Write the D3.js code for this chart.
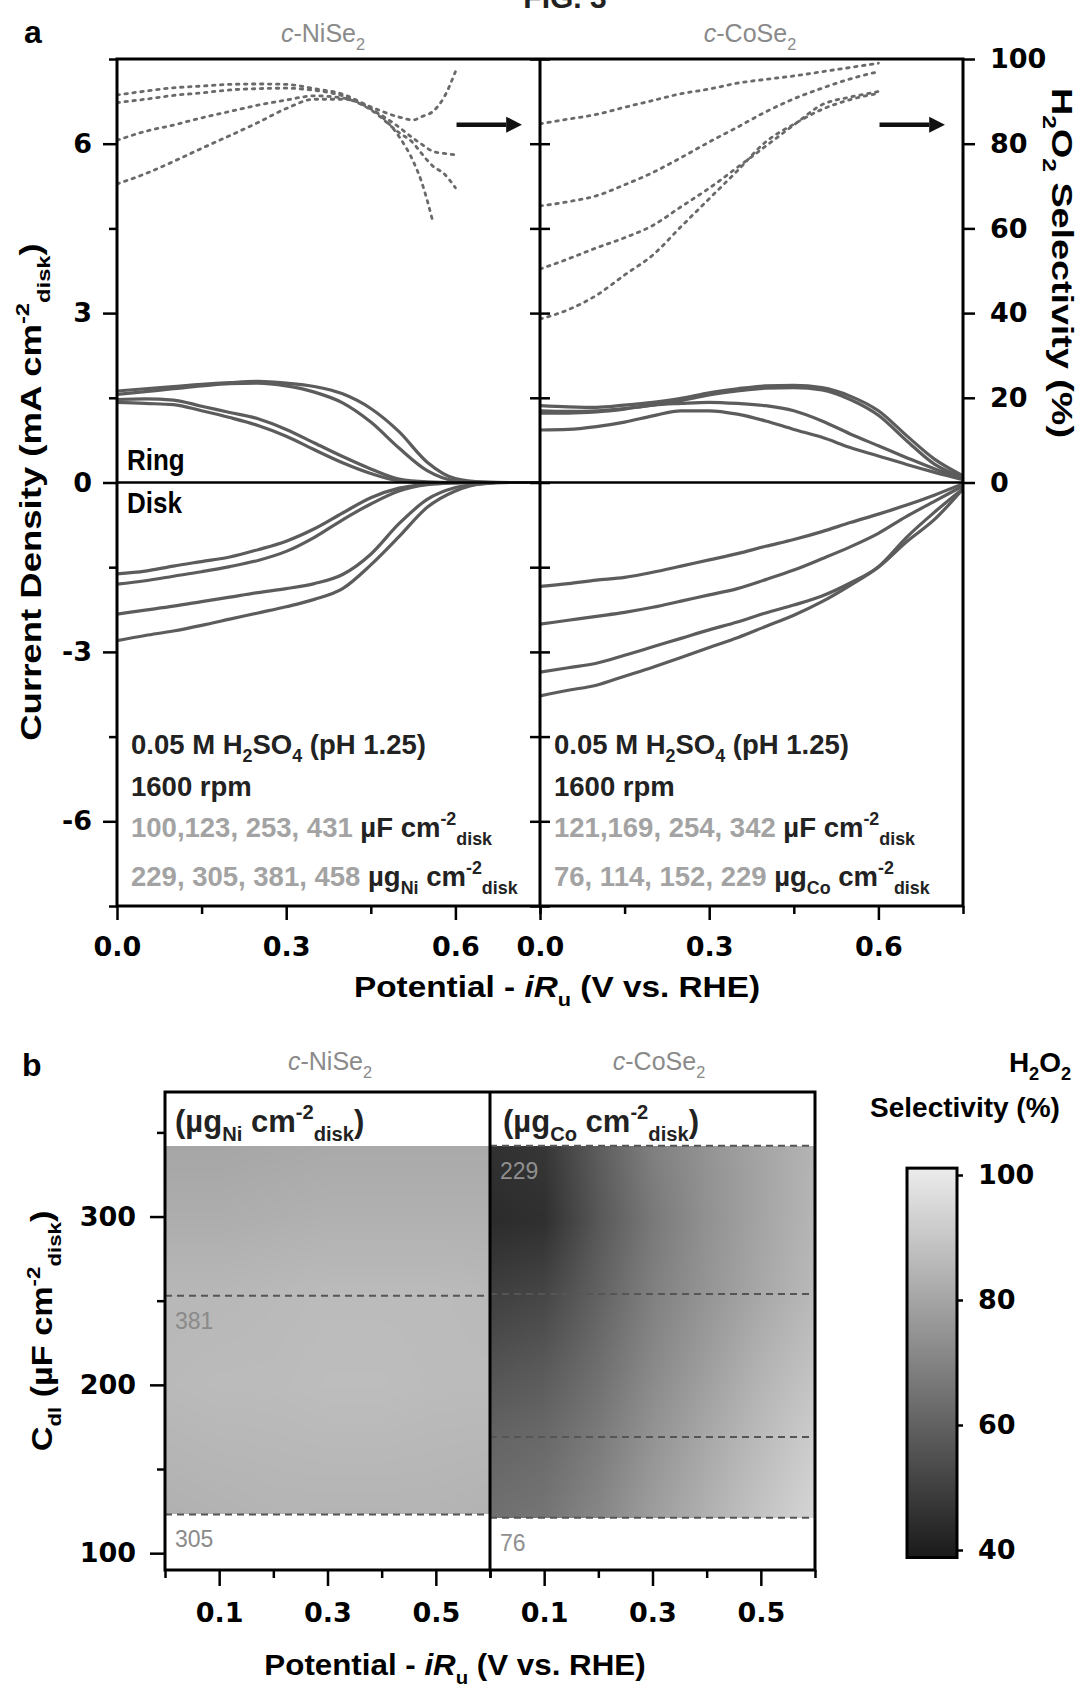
<!DOCTYPE html>
<html>
<head>
<meta charset="utf-8">
<script src="https://cdn.jsdelivr.net/npm/d3@7"></script>
<style>
  body { margin: 0; background: #fff; }
</style>
</head>
<body>
<svg id="fig" width="1088" height="1687" font-family="Liberation Sans, Arial, sans-serif"></svg>
<script>
// ---------- (a) RRDE data ----------
// potential grid (V vs. RHE, iR-corrected) shared by ring / disk currents
const potentialGrid = [0, 0.05, 0.1, 0.15, 0.2, 0.25, 0.3, 0.35, 0.4, 0.45, 0.5, 0.55, 0.6, 0.65, 0.7, 0.75];

// c-NiSe2 ring and disk current densities (mA cm-2 disk)
const niRing = [
  [1.62, 1.66, 1.70, 1.74, 1.77, 1.79, 1.76, 1.70, 1.57, 1.31, 0.90, 0.36, 0.07, 0.01, 0, 0],
  [1.56, 1.61, 1.66, 1.71, 1.75, 1.76, 1.71, 1.60, 1.41, 1.07, 0.61, 0.21, 0.03, 0, 0, 0],
  [1.47, 1.48, 1.46, 1.35, 1.24, 1.13, 0.94, 0.70, 0.46, 0.24, 0.06, 0.01, 0, 0, 0, 0],
  [1.42, 1.40, 1.38, 1.27, 1.15, 1.01, 0.82, 0.58, 0.35, 0.16, 0.03, 0, 0, 0, 0, 0]
];
const niDisk = [
  [-1.62, -1.57, -1.48, -1.40, -1.32, -1.19, -1.04, -0.82, -0.54, -0.27, -0.10, -0.03, 0, 0, 0, 0],
  [-1.80, -1.74, -1.66, -1.58, -1.49, -1.38, -1.22, -0.97, -0.66, -0.38, -0.15, -0.04, -0.01, 0, 0, 0],
  [-2.33, -2.26, -2.19, -2.11, -2.03, -1.95, -1.88, -1.79, -1.63, -1.27, -0.73, -0.30, -0.09, -0.02, 0, 0],
  [-2.80, -2.71, -2.63, -2.53, -2.42, -2.31, -2.20, -2.07, -1.88, -1.46, -0.96, -0.44, -0.15, -0.02, 0, 0]
];

// c-CoSe2 ring and disk current densities (mA cm-2 disk)
const coRing = [
  [1.36, 1.34, 1.33, 1.37, 1.42, 1.49, 1.59, 1.66, 1.71, 1.72, 1.68, 1.53, 1.27, 0.83, 0.41, 0.12],
  [1.27, 1.26, 1.27, 1.31, 1.37, 1.45, 1.55, 1.62, 1.67, 1.68, 1.64, 1.47, 1.19, 0.74, 0.32, 0.09],
  [1.23, 1.23, 1.25, 1.30, 1.37, 1.40, 1.42, 1.40, 1.36, 1.27, 1.09, 0.86, 0.65, 0.44, 0.24, 0.07],
  [0.93, 0.94, 0.99, 1.07, 1.18, 1.27, 1.27, 1.21, 1.09, 0.94, 0.80, 0.62, 0.47, 0.32, 0.18, 0.05]
];
const coDisk = [
  [-1.84, -1.79, -1.73, -1.68, -1.59, -1.48, -1.37, -1.26, -1.13, -1.01, -0.87, -0.71, -0.56, -0.40, -0.22, -0.02],
  [-2.51, -2.44, -2.37, -2.30, -2.21, -2.10, -1.99, -1.88, -1.72, -1.55, -1.35, -1.14, -0.90, -0.60, -0.33, -0.06],
  [-3.36, -3.28, -3.20, -3.06, -2.91, -2.76, -2.61, -2.47, -2.31, -2.17, -2.01, -1.78, -1.49, -0.97, -0.52, -0.11],
  [-3.78, -3.68, -3.59, -3.43, -3.27, -3.10, -2.92, -2.75, -2.55, -2.35, -2.11, -1.82, -1.50, -1.05, -0.65, -0.11]
];

// H2O2 selectivity (%)
const niSelPotential = [0, 0.05, 0.1, 0.15, 0.2, 0.25, 0.3, 0.35, 0.4, 0.45, 0.5, 0.525, 0.54, 0.56, 0.58, 0.6];
const niSelectivity = [
  [91.5, 92.4, 93.2, 93.6, 94.0, 94.1, 94.0, 93.0, 91.7, 88.7, 86.3, 85.6, 86.4, 87.6, 91.0, 97.0],
  [89.7, 90.5, 91.4, 92.0, 92.7, 93.0, 93.1, 92.6, 91.3, 88.2, 83.9, 81.3, 79.9, 78.2, 77.7, 77.4],
  [80.8, 82.9, 84.4, 86.1, 87.6, 89.1, 90.3, 91.3, 90.8, 88.0, 82.6, 80.2, 77.7, 74.7, 72.9, 69.6],
  [70.5, 72.9, 75.8, 78.9, 81.9, 85.0, 88.3, 90.5, 90.5, 88.3, 81.7, 75.9, 71.0, 61.6, null, null]
];
const coSelPotential = [0, 0.05, 0.1, 0.15, 0.2, 0.25, 0.3, 0.35, 0.4, 0.45, 0.5, 0.55, 0.6];
const coSelectivity = [
  [84.7, 85.8, 86.9, 88.6, 90.2, 91.8, 92.9, 94.3, 95.2, 96.0, 97.0, 98.0, 99.0],
  [65.3, 66.3, 67.7, 70.3, 73.2, 76.7, 80.4, 83.9, 87.5, 90.6, 93.1, 95.3, 97.0],
  [50.4, 52.8, 55.4, 57.8, 60.7, 65.1, 69.5, 74.4, 79.4, 84.4, 89.2, 91.0, 92.3],
  [38.6, 40.8, 44.2, 49.0, 53.7, 60.4, 67.0, 73.6, 80.4, 84.6, 88.1, 90.4, 91.9]
];

// ---------- (b) selectivity map data ----------
const heatPotential = [0, 0.1, 0.2, 0.3, 0.4, 0.5, 0.6];
const niHeatCdl = [123, 200, 253, 300, 342];
const niHeat = [
  [83.0, 83.5, 84.0, 84.0, 84.0, 84.0, 83.5],
  [85.5, 86.0, 86.0, 86.5, 86.5, 86.0, 86.0],
  [85.0, 85.0, 85.5, 86.0, 86.0, 86.0, 85.5],
  [82.0, 82.0, 82.5, 83.0, 83.0, 83.0, 83.0],
  [80.0, 80.0, 80.5, 81.0, 81.0, 81.0, 81.0]
];
const coHeatCdl = [121, 169, 211, 254, 298, 342];
const coHeat = [
  [64.5, 66.0, 71.0, 77.5, 83.0, 88.5, 93.5],
  [61.0, 62.5, 67.5, 74.5, 80.5, 86.0, 91.0],
  [56.0, 58.0, 64.0, 71.5, 77.5, 83.5, 88.0],
  [50.5, 52.5, 60.5, 69.0, 75.0, 80.5, 85.5],
  [45.0, 46.0, 57.5, 67.0, 74.0, 79.5, 84.5],
  [46.5, 48.0, 59.0, 69.0, 74.5, 79.5, 84.0]
];
// double-layer capacitance levels (dashed) and their loadings
const niCdlLines = [123, 253];
const niLoadLabels = [{cdl: 253, text: "381"}, {cdl: 123, text: "305"}];
const coCdlLines = [121, 169, 254, 342];
const coLoadLabels = [{cdl: 342, text: "229"}, {cdl: 121, text: "76"}];

// tick values
const currentTicks = [-6, -3, 0, 3, 6];
const currentMinor = [-7.5, -4.5, -1.5, 1.5, 4.5, 7.5];
const selTicks = [0, 20, 40, 60, 80, 100];
const potTicksA = [0, 0.3, 0.6];
const potMinorA = [0.15, 0.45, 0.75];
const cdlTicks = [100, 200, 300];
const cdlMinor = [150, 250, 350];
const potTicksB = [0.1, 0.3, 0.5];
const potMinorB = [0, 0.2, 0.4, 0.6];
const cbTicks = [40, 60, 80, 100];

// ---------- helpers ----------
const svg = d3.select("#fig");
const TICK_FONT = "DejaVu Sans, sans-serif";
const TICK_SIZE = 27;

function styleAxis(g) {
  g.select(".domain").remove();
  g.selectAll(".tick line").attr("stroke", "#000").attr("stroke-width", 2.5);
  g.selectAll(".tick text")
    .attr("font-family", TICK_FONT).attr("font-weight", "bold")
    .attr("font-size", TICK_SIZE).attr("fill", "#000");
  return g;
}
const fmtInt = d => (d < 0 ? "-" + Math.abs(d) : String(d));

// text with sub/superscript runs: segments are strings or [text, "sub"|"sup"|null, fill, italic]
function richText(parent, x, y, segs, o) {
  const fs = o.size;
  const g = parent.append("g")
    .attr("transform", `translate(${x},${y}) rotate(${o.rotate || 0}) scale(${o.sx || 1},${o.sy || 1})`);
  const t = g.append("text").attr("x", 0).attr("y", 0)
    .attr("font-size", fs).attr("font-weight", o.weight || "normal")
    .attr("fill", o.fill || "#000").attr("text-anchor", o.anchor || "start");
  let cur = 0;
  segs.forEach(s => {
    const seg = typeof s === "string" ? {t: s} : {t: s[0], k: s[1], fill: s[2], it: s[3]};
    const target = seg.k === "sub" ? 0.3 * fs : seg.k === "sup" ? -0.42 * fs : 0;
    const sp = t.append("tspan").text(seg.t).attr("dy", target - cur);
    if (seg.k) sp.attr("font-size", fs * 0.65);
    if (seg.fill) sp.attr("fill", seg.fill);
    if (seg.it) sp.attr("font-style", "italic");
    cur = target;
  });
  return t;
}

// ---------- panel a ----------
const aTop = 59, aBottom = 906, aLeft = 117, aMid = 540, aRight = 963;
const yA = d3.scaleLinear().domain([-7.5, 7.5]).range([aBottom, aTop]);
const ySel = d3.scaleLinear().domain([0, 100]).range([yA(0), yA(7.5)]);
const xNi = d3.scaleLinear().domain([0, 0.75]).range([aLeft, aMid]);
const xCo = d3.scaleLinear().domain([0, 0.75]).range([aMid, aRight]);

const defs = svg.append("defs");
[["clipNi", xNi], ["clipCo", xCo]].forEach(([id, x]) => {
  defs.append("clipPath").attr("id", id).append("rect")
    .attr("x", x.range()[0]).attr("y", aTop)
    .attr("width", x.range()[1] - x.range()[0]).attr("height", aBottom - aTop);
});

function drawCurrents(x, clip, ring, disk, selPot, sel) {
  const g = svg.append("g").attr("clip-path", `url(#${clip})`);
  const line = d3.line().x((d, i) => x(potentialGrid[i])).y(d => yA(d)).curve(d3.curveMonotoneX);
  ring.concat(disk).forEach(s => {
    g.append("path").attr("d", line(s)).attr("fill", "none")
      .attr("stroke", "#5c5c5c").attr("stroke-width", 3.2);
  });
  const sLine = d3.line().defined(d => d != null)
    .x((d, i) => x(selPot[i])).y(d => ySel(d)).curve(d3.curveMonotoneX);
  sel.forEach(s => {
    g.append("path").attr("d", sLine(s)).attr("fill", "none")
      .attr("stroke", "#6a6a6a").attr("stroke-width", 2.8)
      .attr("stroke-dasharray", "2.5,5.5").attr("stroke-linecap", "round");
  });
}
drawCurrents(xNi, "clipNi", niRing, niDisk, niSelPotential, niSelectivity);
drawCurrents(xCo, "clipCo", coRing, coDisk, coSelPotential, coSelectivity);

// zero line
svg.append("line").attr("x1", aLeft).attr("x2", aRight)
  .attr("y1", yA(0)).attr("y2", yA(0)).attr("stroke", "#000").attr("stroke-width", 2.5);

// arrows pointing to the selectivity axis
[xNi, xCo].forEach(x => {
  const y = ySel(84.5), x0 = x(0.602), x1 = x(0.69), x2 = x(0.718);
  svg.append("line").attr("x1", x0).attr("x2", x1).attr("y1", y).attr("y2", y)
    .attr("stroke", "#111").attr("stroke-width", 4.5);
  svg.append("path").attr("d", `M${x1},${y - 8}L${x2},${y}L${x1},${y + 8}Z`).attr("fill", "#111");
});

// frame
svg.append("rect").attr("x", aLeft).attr("y", aTop).attr("width", aRight - aLeft)
  .attr("height", aBottom - aTop).attr("fill", "none").attr("stroke", "#000").attr("stroke-width", 3);
svg.append("line").attr("x1", aMid).attr("x2", aMid).attr("y1", aTop).attr("y2", aBottom)
  .attr("stroke", "#000").attr("stroke-width", 3);

// axes of panel a
styleAxis(svg.append("g").attr("transform", `translate(${aLeft},0)`)
  .call(d3.axisLeft(yA).tickValues(currentTicks).tickSize(14).tickPadding(11).tickFormat(fmtInt)));
styleAxis(svg.append("g").attr("transform", `translate(${aLeft},0)`)
  .call(d3.axisLeft(yA).tickValues(currentMinor).tickSize(8).tickFormat("")));
styleAxis(svg.append("g").attr("transform", `translate(${aMid},0)`)
  .call(d3.axisLeft(yA).tickValues(currentTicks.concat(currentMinor)).tickSize(-10).tickFormat("")));
styleAxis(svg.append("g").attr("transform", `translate(${aMid},0)`)
  .call(d3.axisRight(yA).tickValues(currentTicks.concat(currentMinor)).tickSize(-10).tickFormat("")));
styleAxis(svg.append("g").attr("transform", `translate(${aRight},0)`)
  .call(d3.axisRight(ySel).tickValues(selTicks).tickSize(12).tickPadding(15).tickFormat(d3.format("d"))));
[xNi, xCo].forEach(x => {
  styleAxis(svg.append("g").attr("transform", `translate(0,${aBottom})`)
    .call(d3.axisBottom(x).tickValues(potTicksA).tickSize(14).tickPadding(17).tickFormat(d3.format(".1f"))));
  styleAxis(svg.append("g").attr("transform", `translate(0,${aBottom})`)
    .call(d3.axisBottom(x).tickValues(potMinorA).tickSize(8).tickFormat("")));
});

// titles and labels of panel a
svg.append("text").attr("x", 565).attr("y", 8).attr("text-anchor", "middle")
  .attr("font-weight", "bold").attr("font-size", 30).attr("fill", "#222").text("FIG. 3");
svg.append("text").attr("x", 24).attr("y", 43)
  .attr("font-weight", "bold").attr("font-size", 32).text("a");
richText(svg, 323, 42, [["c", null, null, true], "-NiSe", ["2", "sub"]], {size: 25, fill: "#8a8a8a", anchor: "middle"});
richText(svg, 750, 42, [["c", null, null, true], "-CoSe", ["2", "sub"]], {size: 25, fill: "#8a8a8a", anchor: "middle"});

richText(svg, 41, 492, ["Current Density (mA cm", ["-2", "sup"], ["disk", "sub"], ")"],
  {size: 29, weight: "bold", anchor: "middle", rotate: -90, sx: 1.26});
richText(svg, 1052, 263, ["H", ["2", "sub"], "O", ["2", "sub"], " Selectivity (%)"],
  {size: 29, weight: "bold", anchor: "middle", rotate: 90, sx: 1.3});
richText(svg, 557, 997, ["Potential - ", ["iR", null, null, true], ["u", "sub"], " (V vs. RHE)"],
  {size: 29, weight: "bold", anchor: "middle", sx: 1.15});

richText(svg, 127, 470, ["Ring"], {size: 26, weight: "bold", sy: 1.15});
richText(svg, 127, 513, ["Disk"], {size: 26, weight: "bold", sy: 1.15});

function conditions(x0, cap, load, metal) {
  const o = {size: 27.5, weight: "bold", fill: "#222"};
  richText(svg, x0, 754, ["0.05 M H", ["2", "sub"], "SO", ["4", "sub"], " (pH 1.25)"], o);
  richText(svg, x0, 796, ["1600 rpm"], o);
  richText(svg, x0, 837, [[cap, null, "#a3a3a3"], " \u00b5F cm", ["-2", "sup"], ["disk", "sub"]], o);
  richText(svg, x0, 886, [[load, null, "#a3a3a3"], " \u00b5g", [metal, "sub"], " cm", ["-2", "sup"], ["disk", "sub"]], o);
}
conditions(131, "100,123, 253, 431", "229, 305, 381, 458", "Ni");
conditions(554, "121,169, 254, 342", "76, 114, 152, 229", "Co");

// ---------- panel b ----------
const bTop = 1092, bBottom = 1570, bLeft = 165, bMid = 490, bRight = 815;
const yB = d3.scaleLinear().domain([90, 374]).range([bBottom, bTop]);
const xNiB = d3.scaleLinear().domain([0, 0.6]).range([bLeft, bMid]);
const xCoB = d3.scaleLinear().domain([0, 0.6]).range([bMid, bRight]);
const heatColor = d3.scaleLinear().domain([40, 100]).range(["#1a1a1a", "#ececec"]).clamp(true);

function sampleGrid(pots, cdls, grid, v, c) {
  const i = Math.max(0, Math.min(pots.length - 2, d3.bisectRight(pots, v) - 1));
  const j = Math.max(0, Math.min(cdls.length - 2, d3.bisectRight(cdls, c) - 1));
  const tv = Math.max(0, Math.min(1, (v - pots[i]) / (pots[i + 1] - pots[i])));
  const tc = Math.max(0, Math.min(1, (c - cdls[j]) / (cdls[j + 1] - cdls[j])));
  const a = grid[j][i] * (1 - tv) + grid[j][i + 1] * tv;
  const b = grid[j + 1][i] * (1 - tv) + grid[j + 1][i + 1] * tv;
  return a * (1 - tc) + b * tc;
}

function drawHeat(x, cdls, grid) {
  const [x0, x1] = x.range();
  const top = Math.round(yB(cdls[cdls.length - 1])), bottom = Math.round(yB(cdls[0]));
  const w = Math.round(x1 - x0), h = bottom - top;
  const canvas = document.createElement("canvas");
  canvas.width = w; canvas.height = h;
  const ctx = canvas.getContext("2d");
  const img = ctx.createImageData(w, h);
  for (let r = 0; r < h; r++) {
    const c = yB.invert(top + r + 0.5);
    for (let q = 0; q < w; q++) {
      const v = x.invert(x0 + q + 0.5);
      const col = d3.rgb(heatColor(sampleGrid(heatPotential, cdls, grid, v, c)));
      const k = (r * w + q) * 4;
      img.data[k] = col.r; img.data[k + 1] = col.g; img.data[k + 2] = col.b; img.data[k + 3] = 255;
    }
  }
  ctx.putImageData(img, 0, 0);
  svg.append("image").attr("x", x0).attr("y", top).attr("width", w).attr("height", h)
    .attr("preserveAspectRatio", "none").attr("href", canvas.toDataURL());
}
drawHeat(xNiB, niHeatCdl, niHeat);
drawHeat(xCoB, coHeatCdl, coHeat);

function dashed(x, levels) {
  levels.forEach(c => {
    svg.append("line").attr("x1", x.range()[0]).attr("x2", x.range()[1])
      .attr("y1", yB(c)).attr("y2", yB(c))
      .attr("stroke", "#555").attr("stroke-width", 2).attr("stroke-dasharray", "7,5");
  });
}
dashed(xNiB, niCdlLines);
dashed(xCoB, coCdlLines);

function loadLabels(x, labels, fill) {
  labels.forEach(l => {
    svg.append("text").attr("x", x.range()[0] + 10).attr("y", yB(l.cdl) + 33)
      .attr("font-size", 23).attr("fill", fill).text(l.text);
  });
}
loadLabels(xNiB, niLoadLabels, "#8a8a8a");
loadLabels(xCoB, coLoadLabels, "#8f8f8f");

svg.append("rect").attr("x", bLeft).attr("y", bTop).attr("width", bRight - bLeft)
  .attr("height", bBottom - bTop).attr("fill", "none").attr("stroke", "#000").attr("stroke-width", 3);
svg.append("line").attr("x1", bMid).attr("x2", bMid).attr("y1", bTop).attr("y2", bBottom)
  .attr("stroke", "#000").attr("stroke-width", 3);

richText(svg, 175, 1132, ["(\u00b5g", ["Ni", "sub"], " cm", ["-2", "sup"], ["disk", "sub"], ")"],
  {size: 31, weight: "bold", fill: "#222"});
richText(svg, 503, 1132, ["(\u00b5g", ["Co", "sub"], " cm", ["-2", "sup"], ["disk", "sub"], ")"],
  {size: 31, weight: "bold", fill: "#222"});

styleAxis(svg.append("g").attr("transform", `translate(${bLeft},0)`)
  .call(d3.axisLeft(yB).tickValues(cdlTicks).tickSize(15).tickPadding(14).tickFormat(d3.format("d"))));
styleAxis(svg.append("g").attr("transform", `translate(${bLeft},0)`)
  .call(d3.axisLeft(yB).tickValues(cdlMinor).tickSize(8).tickFormat("")));
[xNiB, xCoB].forEach(x => {
  styleAxis(svg.append("g").attr("transform", `translate(0,${bBottom})`)
    .call(d3.axisBottom(x).tickValues(potTicksB).tickSize(16).tickPadding(17).tickFormat(d3.format(".1f"))));
  styleAxis(svg.append("g").attr("transform", `translate(0,${bBottom})`)
    .call(d3.axisBottom(x).tickValues(potMinorB).tickSize(8).tickFormat("")));
});

svg.append("text").attr("x", 22).attr("y", 1076)
  .attr("font-weight", "bold").attr("font-size", 32).text("b");
richText(svg, 330, 1070, [["c", null, null, true], "-NiSe", ["2", "sub"]], {size: 25, fill: "#8a8a8a", anchor: "middle"});
richText(svg, 659, 1070, [["c", null, null, true], "-CoSe", ["2", "sub"]], {size: 25, fill: "#8a8a8a", anchor: "middle"});
richText(svg, 52, (bTop + bBottom) / 2, ["C", ["dl", "sub"], " (\u00b5F cm", ["-2", "sup"], ["disk", "sub"], ")"],
  {size: 29, weight: "bold", anchor: "middle", rotate: -90, sx: 1.18});
richText(svg, 455, 1675, ["Potential - ", ["iR", null, null, true], ["u", "sub"], " (V vs. RHE)"],
  {size: 29, weight: "bold", anchor: "middle", sx: 1.08});

// colour bar
const cbScale = d3.scaleLinear().domain([40, 100]).range([1550, 1175]);
const cbX = 907, cbW = 50;
const grad = defs.append("linearGradient").attr("id", "cbGrad")
  .attr("x1", 0).attr("x2", 0).attr("y1", 1).attr("y2", 0);
d3.range(0, 11).forEach(k => {
  const v = 40 + k * 6;
  grad.append("stop").attr("offset", k / 10).attr("stop-color", heatColor(v));
});
svg.append("rect").attr("x", cbX).attr("y", cbScale(101.1)).attr("width", cbW)
  .attr("height", cbScale(38.8) - cbScale(101.1)).attr("fill", "url(#cbGrad)")
  .attr("stroke", "#000").attr("stroke-width", 3);
styleAxis(svg.append("g").attr("transform", `translate(${cbX + cbW},0)`)
  .call(d3.axisRight(cbScale).tickValues(cbTicks).tickSize(6).tickPadding(15).tickFormat(d3.format("d"))));
richText(svg, 1040, 1072, ["H", ["2", "sub"], "O", ["2", "sub"]], {size: 28, weight: "bold", anchor: "middle"});
svg.append("text").attr("x", 965).attr("y", 1117).attr("text-anchor", "middle")
  .attr("font-weight", "bold").attr("font-size", 28).text("Selectivity (%)");
</script>
</body>
</html>
